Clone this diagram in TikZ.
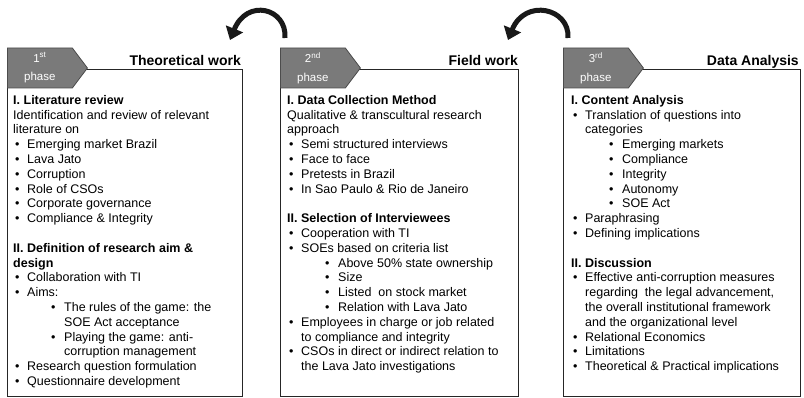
\documentclass[tikz,border=0pt]{standalone}
\usepackage{fontspec}
\setmainfont{Liberation Sans}
\usetikzlibrary{shapes.symbols,arrows.meta}
% list helpers: bullet, continuation, sub-bullet, sub-continuation
\newcommand{\bi}[1]{\makebox[14pt][l]{\hspace{2pt}\textbullet}#1}
\newcommand{\bc}[1]{\hspace*{14pt}#1}
\newcommand{\sbi}[1]{\hspace*{38pt}\makebox[13pt][l]{\textbullet}#1}
\newcommand{\sbc}[1]{\hspace*{51pt}#1}
\begin{document}
\begin{tikzpicture}[x=1pt,y=-1pt,
  phasebox/.style={draw=black!85,line width=1.1pt,fill=white,inner sep=0pt,anchor=north west},
  phasetab/.style={signal,signal to=east,signal pointer angle=106,fill=black!52,draw=black!70,
    line width=0.8pt,minimum width=80pt,minimum height=40pt,inner sep=0pt,text=white,
    font=\fontsize{11.5}{12.5}\selectfont,align=center,anchor=west},
  ttl/.style={font=\fontsize{14}{16}\selectfont\bfseries,anchor=base east,inner sep=0pt},
  body/.style={font=\fontsize{12.5}{14.8}\selectfont,anchor=north west,inner sep=0pt,align=left},
  turn/.style={line width=5pt,black!90,-{Triangle[width=18pt,length=12pt]}}
]
\useasboundingbox (0,0) rectangle (804,398);

% the three phase frames
\node[phasebox,minimum width=235pt,minimum height=327pt] (box1) at (7,69) {};
\node[phasebox,minimum width=238pt,minimum height=327pt] (box2) at (280,69) {};
\node[phasebox,minimum width=237pt,minimum height=327pt] (box3) at (563,69) {};

% phase tabs
\node[phasetab] (tab1) at (7,68) {1\textsuperscript{st}\\[6pt]phase};
\node[phasetab] (tab2) at (280,68) {2\textsuperscript{nd}\\[6pt]phase};
\node[phasetab] (tab3) at (563,68) {3\textsuperscript{rd}\\[6pt]phase};

% phase titles
\node[ttl] (ttl1) at (241,66) {Theoretical work};
\node[ttl] (ttl2) at (518,66) {Field work};
\node[ttl] (ttl3) at (799,66) {Data Analysis};

% feedback arrows between phases
\coordinate (r1a) at (285,38);
\coordinate (r1b) at (230,40);
\coordinate (r2a) at (568,38);
\coordinate (r2b) at (508,40);
\draw[turn] (r1a) .. controls (287,8) and (247,-2) .. (r1b);
\draw[turn] (r2a) .. controls (570,8) and (525,-2) .. (r2b);

% phase contents
\node[body] (txt1) at (13,95) {%
\textbf{I. Literature review}\\
Identification and review of relevant\\
literature on\\
\bi{Emerging market Brazil}\\
\bi{Lava Jato}\\
\bi{Corruption}\\
\bi{Role of CSOs}\\
\bi{Corporate governance}\\
\bi{Compliance \& Integrity}\\[14.8pt]
\textbf{II. Definition of research aim \&}\\
\textbf{design}\\
\bi{Collaboration with TI}\\
\bi{Aims:}\\
\sbi{The rules of the game: the}\\
\sbc{SOE Act acceptance}\\
\sbi{Playing the game: anti-}\\
\sbc{corruption management}\\
\bi{Research question formulation}\\
\bi{Questionnaire development}};

\node[body] (txt2) at (287,95) {%
\textbf{I. Data Collection Method}\\
Qualitative \& transcultural research\\
approach\\
\bi{Semi structured interviews}\\
\bi{Face to face}\\
\bi{Pretests in Brazil}\\
\bi{In Sao Paulo \& Rio de Janeiro}\\[14.8pt]
\textbf{II. Selection of Interviewees}\\
\bi{Cooperation with TI}\\
\bi{SOEs based on criteria list}\\
\sbi{Above 50\% state ownership}\\
\sbi{Size}\\
\sbi{Listed\ \ on stock market}\\
\sbi{Relation with Lava Jato}\\
\bi{Employees in charge or job related}\\
\bc{to compliance and integrity}\\
\bi{CSOs in direct or indirect relation to}\\
\bc{the Lava Jato investigations}};

\node[body] (txt3) at (571,95) {%
\textbf{I. Content Analysis}\\
\bi{Translation of questions into}\\
\bc{categories}\\
\sbi{Emerging markets}\\
\sbi{Compliance}\\
\sbi{Integrity}\\
\sbi{Autonomy}\\
\sbi{SOE Act}\\
\bi{Paraphrasing}\\
\bi{Defining implications}\\[14.8pt]
\textbf{II. Discussion}\\
\bi{Effective anti-corruption measures}\\
\bc{regarding\ \ the legal advancement,}\\
\bc{the overall institutional framework}\\
\bc{and the organizational level}\\
\bi{Relational Economics}\\
\bi{Limitations}\\
\bi{Theoretical \& Practical implications}};
\end{tikzpicture}
\end{document}
